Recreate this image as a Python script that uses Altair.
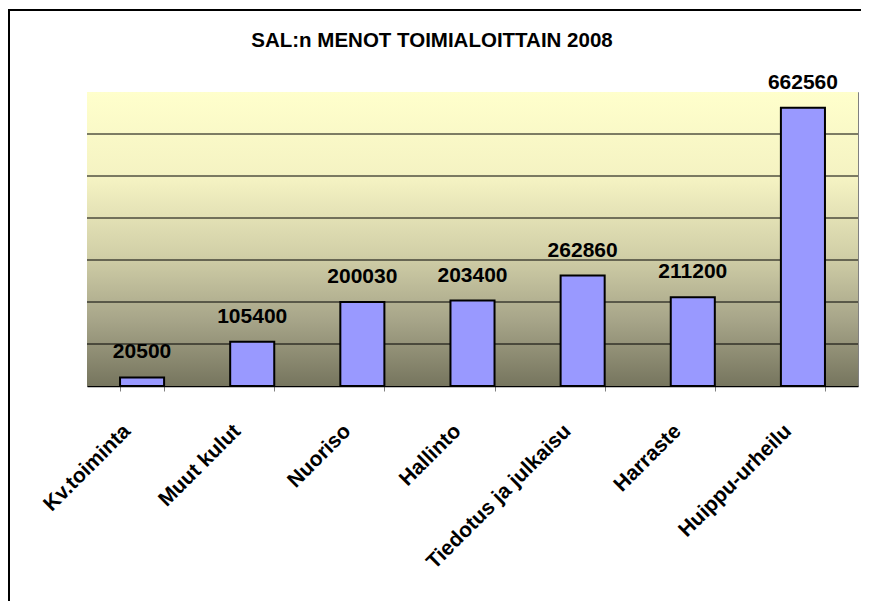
import altair as alt
import pandas as pd

categories = ["Kv.toiminta", "Muut kulut", "Nuoriso", "Hallinto",
              "Tiedotus ja julkaisu", "Harraste", "Huippu-urheilu"]
values = [20500, 105400, 200030, 203400, 262860, 211200, 662560]
grid_values = [100000, 200000, 300000, 400000, 500000, 600000]
y_max = 700000
title_text = "SAL:n MENOT TOIMIALOITTAIN 2008"

W, H = 771, 294
FONT = "Liberation Sans"

df = pd.DataFrame({"cat": categories, "value": values})
grid_df = pd.DataFrame({"v": grid_values})
title_df = pd.DataFrame({"t": [title_text]})

yscale = alt.Scale(domain=[0, y_max], nice=False)
xscale = alt.Scale(paddingInner=0.6, paddingOuter=0.3)

gradient = {
    "gradient": "linear", "x1": 0, "y1": 0, "x2": 0, "y2": 1,
    "stops": [
        {"offset": 0.0, "color": "#FFFFCC"},
        {"offset": 0.3, "color": "#F4F2C2"},
        {"offset": 0.55, "color": "#D2D0A8"},
        {"offset": 0.78, "color": "#A6A488"},
        {"offset": 1.0, "color": "#76755E"},
    ],
}

frame = alt.Chart(title_df).mark_rect(filled=False, stroke="black", strokeWidth=2).encode(
    x=alt.value(-78), x2=alt.value(W + 200), y=alt.value(-82), y2=alt.value(H + 600)
)

title = alt.Chart(title_df).mark_text(fontSize=20.5, fontWeight="bold", font=FONT,
                                      color="black", baseline="alphabetic",
                                      align="center").encode(
    x=alt.value(345), y=alt.value(-45), text="t:N"
)

bg = alt.Chart(title_df).mark_rect(fill=gradient).encode(
    x=alt.value(0), x2=alt.value(W), y=alt.value(0), y2=alt.value(H)
)

grid = alt.Chart(grid_df).mark_rule(color="black", strokeWidth=1).encode(
    y=alt.Y("v:Q", scale=yscale, axis=None)
)

bars = alt.Chart(df).mark_bar(fill="#9999FF", stroke="black", strokeWidth=2).encode(
    x=alt.X("cat:N", sort=categories, scale=xscale, title=None,
            axis=alt.Axis(labelAngle=-45, labelFontSize=21, labelFontWeight="bold",
                          labelFont=FONT, labelColor="black", labelPadding=29,
                          labelOffset=-23, labelLimit=500,
                          tickBand="extent", tickSize=5, tickColor="#808080",
                          domainColor="black", domainWidth=1.5, grid=False)),
    y=alt.Y("value:Q", scale=yscale, axis=None),
)

labels = alt.Chart(df).mark_text(dy=-19, baseline="alphabetic", fontSize=21,
                                 fontWeight="bold", font=FONT, color="black").encode(
    x=alt.X("cat:N", sort=categories, scale=xscale),
    y=alt.Y("value:Q", scale=yscale),
    text=alt.Text("value:Q", format="d"),
)

chart = alt.layer(frame, title, bg, grid, bars, labels).properties(
    width=W, height=H,
    padding={"left": 79, "top": 84, "right": 3, "bottom": 215},
    autosize=alt.AutoSizeParams(type="none"),
).configure_view(stroke="#808080", strokeWidth=1)

chart.save("out.html", embed_options={"renderer": "svg", "actions": False})
